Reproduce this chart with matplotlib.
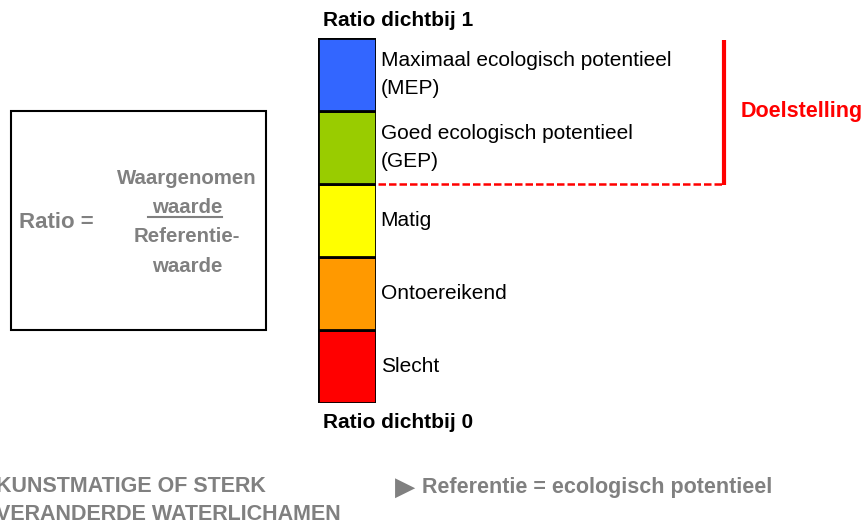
import matplotlib
matplotlib.use("Agg")
from matplotlib import pyplot as plt
from matplotlib.patches import Rectangle

plt.rcParams['font.family'] = ['Liberation Sans', 'DejaVu Sans']

# classes from bottom (ratio near 0) to top (ratio near 1)
klassen = ['Slecht', 'Ontoereikend', 'Matig',
           'Goed ecologisch potentieel\n(GEP)',
           'Maximaal ecologisch potentieel\n(MEP)']
kleuren = ['#ff0000', '#ff9900', '#ffff00', '#99cc00', '#3366ff']
hoogte = [1, 1, 1, 1, 1]
doel_vanaf = 3  # GEP and MEP are the goal

breuk = ['Waargenomen', 'waarde', 'Referentie-', 'waarde']

grijs = '#808080'

fig = plt.figure(figsize=(8.66, 5.22), dpi=100)

# overlay axes in pixel coordinates
ov = fig.add_axes([0, 0, 1, 1])
ov.set_xlim(0, 866)
ov.set_ylim(522, 0)
ov.axis('off')

# the coloured bar
W, H = 866, 522
bx0, bx1, by0, by1 = 318, 376, 38, 403
ax = fig.add_axes([bx0 / W, 1 - by1 / H, (bx1 - bx0) / W, (by1 - by0) / H])
bodem = 0
for naam, kleur, h in zip(klassen, kleuren, hoogte):
    ax.bar(0, h, bottom=bodem, width=1, color=kleur, edgecolor='black',
           linewidth=2)
    ax.text(1.08, bodem + h / 2, naam, transform=ax.get_yaxis_transform(),
            ha='left', va='center', fontsize=15, linespacing=1.55)
    bodem += h
ax.set_xlim(-0.5, 0.5)
ax.set_ylim(0, sum(hoogte))
ax.axis('off')

# goal bracket
yd = by1 - (by1 - by0) * doel_vanaf / sum(hoogte)
ov.plot([bx1 + 2, 724], [yd, yd], color='red', lw=1.8, ls=(0, (3, 1.2)))
ov.plot([724, 724], [40, yd + 1], color='red', lw=3, solid_capstyle='butt')
ov.text(741, 112, 'Doelstelling', color='red', fontsize=15.5, weight='bold',
        ha='left', va='center')

ov.text(323, 20, 'Ratio dichtbij 1', fontsize=15, weight='bold',
        ha='left', va='center')
ov.text(323, 422, 'Ratio dichtbij 0', fontsize=15, weight='bold',
        ha='left', va='center')

# ratio box
ov.add_patch(Rectangle((11, 111), 255, 219, fill=False, edgecolor='black',
                       lw=1.5))
ov.text(19, 222, 'Ratio =', color=grijs, fontsize=16, weight='bold',
        ha='left', va='center')
for i, txt in enumerate(breuk):
    ov.text(187, 178 + 29.5 * i, txt, color=grijs, fontsize=14.7,
            weight='bold', ha='center', va='center')
ov.plot([148, 222], [217, 217], color=grijs, lw=1.5)

# footer
ov.text(-4, 487, 'KUNSTMATIGE OF STERK', color=grijs, fontsize=15.5,
        weight='bold', ha='left', va='center')
ov.text(-4, 515, 'VERANDERDE WATERLICHAMEN', color=grijs, fontsize=15.5,
        weight='bold', ha='left', va='center')
ov.text(395, 488, '\u25B6', color=grijs, fontsize=19, ha='left',
        va='center', family='DejaVu Sans')
ov.text(422, 488, 'Referentie = ecologisch potentieel', color=grijs,
        fontsize=15.5, weight='bold', ha='left', va='center')

fig.savefig('out.png', dpi=100)
